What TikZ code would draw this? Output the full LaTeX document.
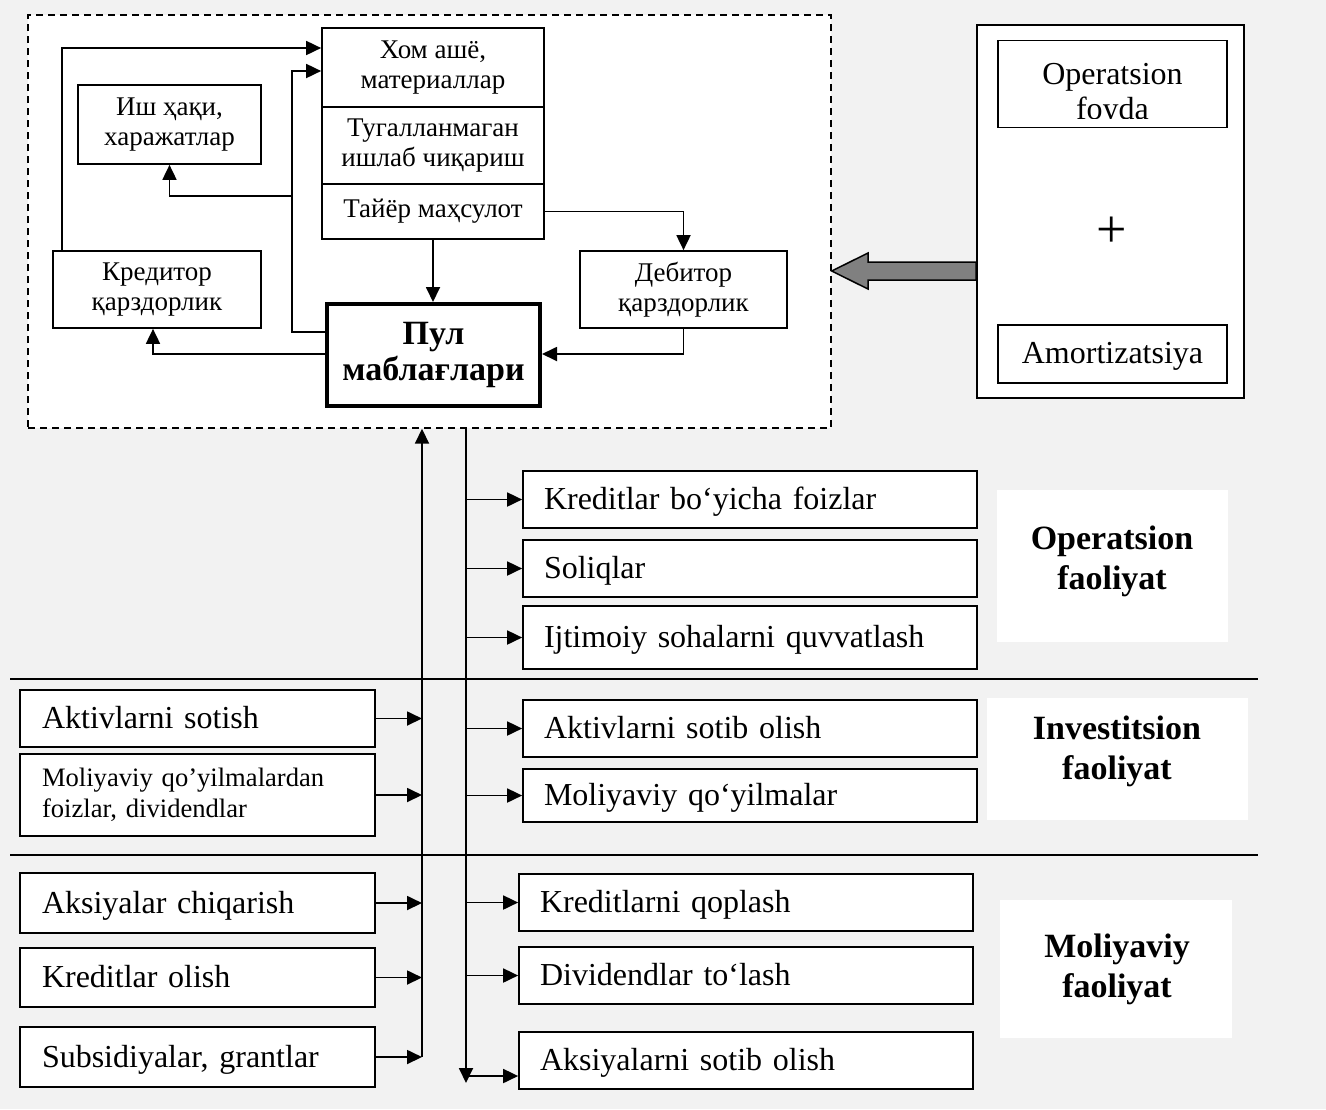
\documentclass[tikz,border=0pt]{standalone}
\usepackage{fontspec}
\setmainfont{Liberation Serif}
\usetikzlibrary{arrows.meta,calc}
\definecolor{bgcol}{HTML}{F2F2F2}
\definecolor{arrgray}{HTML}{808080}
\tikzset{
  box/.style={draw, line width=0.85pt, fill=white, inner sep=0pt, align=center,
    font=\fontsize{13.5}{15}\selectfont},
  obox/.style={draw, line width=0.85pt, fill=white, inner ysep=0pt, inner xsep=10.5pt,
    text width=206pt, align=left, text height=12pt, text depth=2pt,
    font=\fontsize{16}{18}\selectfont},
  iboxbase/.style={draw, line width=0.85pt, fill=white, inner ysep=0pt, inner xsep=11pt,
    text width=155.5pt, align=left},
  ibox/.style={iboxbase, text height=12pt, text depth=2pt,
    font=\fontsize{16}{18}\selectfont},
  lblbox/.style={fill=white, inner sep=0pt},
  lbltxt/.style={align=center, inner sep=0pt, font=\bfseries\fontsize{17}{20}\selectfont},
  arr/.style={line width=0.9pt, -{Triangle[length=7.5pt,width=7pt]}},
  sepline/.style={line width=0.8pt},
}
\begin{document}
\begin{tikzpicture}[x=0.5pt,y=-0.5pt]
\useasboundingbox (0,0) rectangle (1326,1109);
\fill[bgcol] (0,0) rectangle (1326,1109);

% dashed frame
\node[draw, dash pattern=on 3.5pt off 2.5pt, line width=0.7pt, fill=white,
  minimum width=401.5pt, minimum height=206.5pt, inner sep=0pt] (frame) at (429.5,221.5) {};

% inner boxes
\node[box, minimum width=111pt, minimum height=39.5pt] (hom) at (433,67.5) {Хом ашё,\\материаллар};
\node[box, minimum width=111pt, minimum height=38.5pt] (tug) at (433,145.5) {Тугалланмаган\\ишлаб чиқариш};
\node[box, minimum width=111pt, minimum height=27.5pt] (tay) at (433,211.5) {Тайёр маҳсулот};
\node[box, minimum width=91.5pt, minimum height=39.5pt] (ish) at (169.5,124.5) {Иш ҳақи,\\харажатлар};
\node[box, minimum width=104pt, minimum height=38.5pt] (kred) at (157,289.5) {Кредитор\\қарздорлик};
\node[box, minimum width=103.5pt, minimum height=38.5pt] (deb) at (683.5,289.5) {Дебитор\\қарздорлик};
\node[box, line width=2pt, minimum width=106.5pt, minimum height=51pt,
  font=\bfseries\fontsize{17}{18}\selectfont] (pul) at (433.5,355) {Пул\\маблағлари};

% inner connectors
\draw[arr] (kred.north -| 62,0) |- (hom.west |- 0,48);
\draw[arr] (pul.west |- 0,332) -- (292,332) -- (292,71) -- (hom.west |- 0,71);
\draw[arr] (292,196) -| (ish.south);
\draw[arr] (pul.west |- 0,354) -| (kred.south -| 153,0);
\draw[arr] (tay.east) -| (deb.north);
\draw[arr] (tay.south) -- (tay.south |- pul.north);
\draw[arr] (deb.south) |- (pul.east |- 0,354);

% right box
\node[draw, line width=0.9pt, fill=white, minimum width=133.5pt, minimum height=186.5pt,
  inner sep=0pt] (rbox) at (1110.5,211.5) {};
\node[box, minimum width=114.5pt, minimum height=43.5pt] (opf) at (1112.5,84) {};
\begin{scope}
  \clip (opf.north west) rectangle (opf.east |- 0,118);
  \node[align=center, inner sep=0pt, font=\fontsize{16}{17.5}\selectfont] (opft) at (1112.5,95) {Operatsion\\foyda};
\end{scope}
\node[box, font=\fontsize{16}{16.5}\selectfont, minimum width=114.5pt, minimum height=29pt,
  text height=11.5pt, text depth=2pt] (amo) at (1112.5,354) {Amortizatsiya};
\node[inner sep=0pt, font=\fontsize{27}{27}\selectfont] (plus) at (1112,232) {+};

% big gray arrow
\draw[line width=0.75pt, fill=arrgray] (rbox.west |- 0,262) -- (868,262) -- (868,253)
  -- (frame.east |- 0,271) -- (868,289) -- (868,280) -- (rbox.west |- 0,280) -- cycle;

% separators
\draw[sepline] (10,679) -- (1258,679);
\draw[sepline] (10,855) -- (1258,855);

% category labels
\node[lblbox, minimum width=115.5pt, minimum height=76pt] (oplb) at (1112.5,566) {};
\node[lbltxt] (optx) at (1112,561) {Operatsion\\faoliyat};
\node[lblbox, minimum width=130.5pt, minimum height=61pt] (inlb) at (1117.5,759) {};
\node[lbltxt] (intx) at (1117,751) {Investitsion\\faoliyat};
\node[lblbox, minimum width=116pt, minimum height=69pt] (molb) at (1116,969) {};
\node[lbltxt] (motx) at (1117,969) {Moliyaviy\\faoliyat};

% outflow boxes
\node[obox, minimum height=28.5pt] (o1) at (750,499.5) {Kreditlar bo‘yicha foizlar};
\node[obox, minimum height=28.5pt] (o2) at (750,568.5) {Soliqlar};
\node[obox, minimum height=31.5pt] (o3) at (750,637.5) {Ijtimoiy sohalarni quvvatlash};
\node[obox, minimum height=28.5pt] (i1) at (750,728.5) {Aktivlarni sotib olish};
\node[obox, minimum height=26.5pt] (i2) at (750,795.5) {Moliyaviy qo‘yilmalar};
\node[obox, minimum height=28.5pt] (m1) at (746,902.5) {Kreditlarni qoplash};
\node[obox, minimum height=28.5pt] (m2) at (746,975.5) {Dividendlar to‘lash};
\node[obox, minimum height=28.5pt] (m3) at (746,1060.5) {Aksiyalarni sotib olish};

% inflow boxes
\node[ibox, minimum height=28.5pt] (a1) at (197.5,718.5) {Aktivlarni sotish};
\node[iboxbase, minimum height=41pt, font=\fontsize{13.3}{15.5}\selectfont] (a2) at (197.5,795)
  {Moliyaviy qo’yilmalardan\\foizlar, dividendlar};
\node[ibox, minimum height=30pt] (f1) at (197.5,903) {Aksiyalar chiqarish};
\node[ibox, minimum height=29.5pt] (f2) at (197.5,977.5) {Kreditlar olish};
\node[ibox, minimum height=30pt] (f3) at (197.5,1057) {Subsidiyalar, grantlar};

% trunk lines
\coordinate (upbot) at (422,1057);
\coordinate (dnbot) at (466,1083);
\draw[arr] (upbot) -- (frame.south -| upbot);
\draw[arr] (frame.south -| dnbot) -- (dnbot);

% inflow arrows
\foreach \n in {a1,a2,f1,f2,f3}
  \draw[arr] (\n.east) -- (\n.east -| upbot);

% outflow arrows
\foreach \n in {o1,o2,o3,i1,i2,m1,m2}
  \draw[arr] (\n.west -| dnbot) -- (\n.west);
\draw[arr] (dnbot |- 0,1076) -- (m3.west |- 0,1076);
\end{tikzpicture}
\end{document}
